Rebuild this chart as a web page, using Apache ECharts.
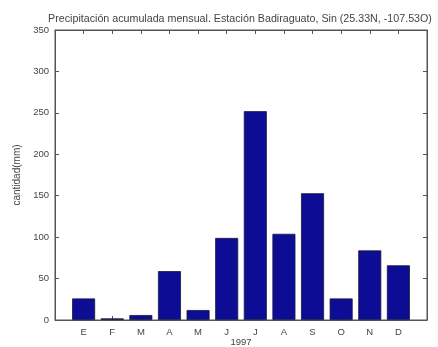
<!DOCTYPE html>
<html>
<head>
<meta charset="utf-8">
<script src="https://cdn.jsdelivr.net/npm/echarts@6/dist/echarts.min.js"></script>
<style>
  html, body { margin: 0; padding: 0; background: #ffffff; }
  #chart { width: 438px; height: 347px; }
</style>
</head>
<body>
<div id="chart"></div>
<script>
// Monthly accumulated precipitation, Badiraguato station, 1997
const months = ['E', 'F', 'M', 'A', 'M', 'J', 'J', 'A', 'S', 'O', 'N', 'D'];
const rainfall = [26, 2, 6, 59, 12, 99, 252, 104, 153, 26, 84, 66];
const yTicks = [0, 50, 100, 150, 200, 250, 300, 350];

const titleText = 'Precipitación acumulada mensual. Estación Badiraguato, Sin (25.33N, -107.53O)';
const yName = 'cantidad(mm)';
const xName = '1997';

const textColor = '#444444';
const axisColor = '#555555';
const font = 'Liberation Sans, Arial, sans-serif';

const chart = echarts.init(document.getElementById('chart'), null, { renderer: 'canvas' });

const barData = rainfall.map((v, i) => [i + 1, v]);

const tickStyle = { show: true, inside: true, length: 4, lineStyle: { color: axisColor } };
const lineStyle = { show: true, onZero: false, lineStyle: { color: axisColor, width: 1 } };

chart.setOption({
  animation: false,
  backgroundColor: '#ffffff',
  title: {
    text: titleText,
    left: 235,
    textAlign: 'center',
    top: 9,
    textStyle: { fontFamily: font, fontSize: 10.7, fontWeight: 'normal', color: textColor }
  },
  grid: {
    left: 55, right: 11, top: 30, bottom: 27,
    containLabel: false,
    outerBoundsMode: 'none',
    show: true, borderColor: axisColor, borderWidth: 1, backgroundColor: 'transparent'
  },
  xAxis: [{
    type: 'value',
    min: 0,
    max: 13,
    interval: 1,
    name: xName,
    nameLocation: 'middle',
    nameGap: 17,
    nameMoveOverlap: false,
    nameTextStyle: { fontFamily: font, fontSize: 9.5, color: textColor },
    axisLine: lineStyle,
    axisTick: tickStyle,
    axisLabel: {
      fontFamily: font, fontSize: 9.5, color: textColor, margin: 7,
      formatter: v => (v >= 1 && v <= 12) ? months[v - 1] : ''
    },
    splitLine: { show: false }
  }, {
    type: 'value',
    position: 'top',
    min: 0,
    max: 13,
    interval: 1,
    axisLine: lineStyle,
    axisTick: tickStyle,
    axisLabel: { show: false },
    splitLine: { show: false }
  }],
  yAxis: [{
    type: 'value',
    min: 0,
    max: 350,
    interval: 50,
    name: yName,
    nameLocation: 'middle',
    nameGap: 33,
    nameMoveOverlap: false,
    nameTextStyle: { fontFamily: font, fontSize: 10, color: textColor },
    axisLine: lineStyle,
    axisTick: tickStyle,
    axisLabel: {
      fontFamily: font, fontSize: 9.5, color: textColor, margin: 6,
      formatter: v => yTicks.includes(v) ? String(v) : ''
    },
    splitLine: { show: false }
  }, {
    type: 'value',
    position: 'right',
    min: 0,
    max: 350,
    interval: 50,
    axisLine: lineStyle,
    axisTick: tickStyle,
    axisLabel: { show: false },
    splitLine: { show: false }
  }],
  series: [{
    type: 'bar',
    xAxisIndex: 0,
    yAxisIndex: 0,
    data: barData,
    barWidth: 23,
    itemStyle: {
      color: '#0c0c94',
      borderColor: '#1a1a3a',
      borderWidth: 0.8
    }
  }, {
    // invisible companion so the top/right axes carry ticks
    type: 'scatter',
    xAxisIndex: 1,
    yAxisIndex: 1,
    data: [[0, 0]],
    symbolSize: 0,
    silent: true,
    itemStyle: { opacity: 0 }
  }]
});
</script>
</body>
</html>
